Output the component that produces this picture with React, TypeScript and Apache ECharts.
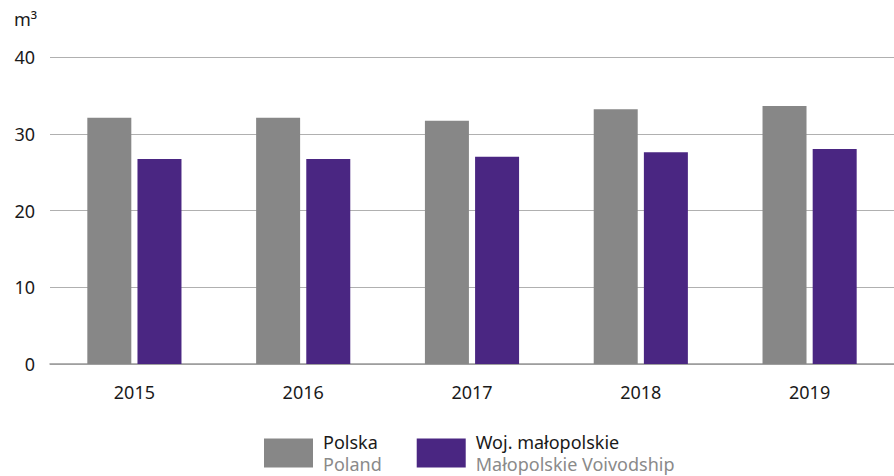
import React, { useEffect, useRef } from "react";
import * as echarts from "echarts";

const years = ["2015", "2016", "2017", "2018", "2019"];
const polska = [32.1, 32.1, 31.7, 33.2, 33.6];
const malopolskie = [26.7, 26.7, 27.0, 27.6, 28.0];
const seriesNames = ["Polska", "Woj. małopolskie"];
const seriesNamesEn = ["Poland", "Małopolskie Voivodship"];
const unitLabel = "m³";

const FONT = "'Noto Sans', 'Open Sans', sans-serif";

export default function App() {
  const ref = useRef<HTMLDivElement>(null);
  useEffect(() => {
    if (!ref.current) return;
    const chart = echarts.init(ref.current, null, { renderer: "svg" });
    chart.setOption({
      animation: false,
      textStyle: { fontFamily: FONT },
      grid: { left: 50, right: 0, top: 57, bottom: 112, containLabel: false },
      graphic: [
        {
          type: "text",
          left: 14,
          top: 10,
          style: { text: unitLabel, fontSize: 18, fontFamily: FONT, fill: "#1a1a1a" },
        },
      ],
      legend: {
        left: 264,
        top: 433,
        padding: 0,
        itemWidth: 49,
        itemHeight: 29,
        itemGap: 35,
        icon: "rect",
        data: seriesNames,
        formatter: (name: string) => {
          const i = seriesNames.indexOf(name);
          return `{a|${name}}\n{b|${seriesNamesEn[i]}}`;
        },
        textStyle: {
          padding: [0, 0, 0, 5],
          rich: {
            a: { fontSize: 18, color: "#1a1a1a", lineHeight: 22, fontFamily: FONT },
            b: { fontSize: 18, color: "#8a8a8a", lineHeight: 22, fontFamily: FONT },
          },
        },
      },
      xAxis: {
        type: "category",
        data: years,
        axisLine: { lineStyle: { color: "#999", width: 1.5 } },
        axisTick: { show: false },
        axisLabel: { fontSize: 18, color: "#1a1a1a", margin: 19, fontFamily: FONT },
      },
      yAxis: {
        type: "value",
        min: 0,
        max: 40,
        interval: 10,
        axisLine: { show: false },
        axisTick: { show: false },
        axisLabel: { fontSize: 18, color: "#1a1a1a", margin: 15, fontFamily: FONT },
        splitLine: { lineStyle: { color: "#b0b0b0", width: 1.2 } },
      },
      series: [
        {
          name: seriesNames[0],
          type: "bar",
          data: polska,
          barWidth: 44,
          barGap: "14%",
          itemStyle: { color: "#878787" },
        },
        {
          name: seriesNames[1],
          type: "bar",
          data: malopolskie,
          barWidth: 44,
          itemStyle: { color: "#4a2682" },
        },
      ],
    });
    return () => chart.dispose();
  }, []);
  return <div ref={ref} style={{ width: 894, height: 476, position: "absolute", left: 0, top: 0 }} />;
}
